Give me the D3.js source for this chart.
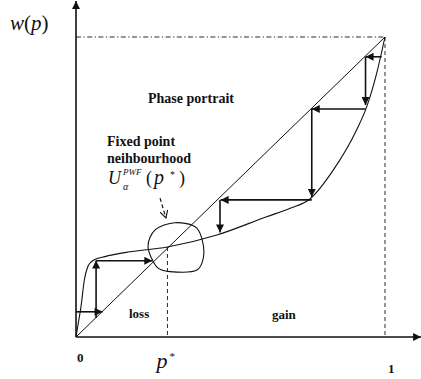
<!DOCTYPE html>
<html>
<head>
<meta charset="utf-8">
<script src="https://cdn.jsdelivr.net/npm/d3@7/dist/d3.min.js"></script>
<style>
  body { margin: 0; background: #fff; }
  text { font-family: "Liberation Serif", "Times New Roman", serif; fill: #111; }
  .b { font-weight: bold; }
  .i { font-style: italic; }
</style>
</head>
<body>
<div id="corpo"></div>
<script>
// curve w(p)
var curveP = [0, 0.008, 0.016, 0.027, 0.038, 0.049, 0.061, 0.094, 0.162, 0.296, 0.456, 0.617, 0.693, 0.757, 0.833, 0.908, 0.941, 0.973, 1];
var curveW = [0, 0.05, 0.10, 0.19, 0.234, 0.25, 0.258, 0.268, 0.282, 0.300, 0.340, 0.401, 0.429, 0.46, 0.557, 0.69, 0.768, 0.879, 1];

// fixed point
var pStar = 0.296;
var wStar = 0.300;

// neighbourhood blob around the fixed point
var blobP = [0.256, 0.320, 0.391, 0.414, 0.391, 0.304, 0.261, 0.233];
var blobW = [0.357, 0.381, 0.363, 0.284, 0.223, 0.218, 0.234, 0.301];

// cobweb arrows (from -> to)
var stepFrom = [[0.0, 0.084], [0.065, 0.063], [0.065, 0.254],
                [0.989, 0.934], [0.937, 0.934], [0.937, 0.76], [0.763, 0.76], [0.763, 0.457], [0.466, 0.457]];
var stepTo   = [[0.086, 0.084], [0.065, 0.255], [0.247, 0.254],
                [0.937, 0.934], [0.937, 0.773], [0.763, 0.76], [0.763, 0.467], [0.468, 0.457], [0.466, 0.348]];

var tickValues = [0, pStar, 1];
var tickLabels = ["0", "p", "1"];

var width = 421, height = 379;
var x = d3.scaleLinear().domain([0, 1]).range([76, 385]);
var y = d3.scaleLinear().domain([0, 1]).range([337, 37]);

var svg = d3.select("#corpo").append("svg")
    .attr("width", width)
    .attr("height", height);

var defs = svg.append("defs");
defs.append("marker")
    .attr("id", "head")
    .attr("markerUnits", "userSpaceOnUse")
    .attr("viewBox", "0 0 10 10")
    .attr("refX", 10).attr("refY", 5)
    .attr("markerWidth", 9).attr("markerHeight", 8)
    .attr("orient", "auto")
    .append("path")
    .attr("d", "M0,0L10,5L0,10Z")
    .style("fill", "#111");
defs.append("marker")
    .attr("id", "vhead")
    .attr("markerUnits", "userSpaceOnUse")
    .attr("viewBox", "0 0 10 10")
    .attr("refX", 9).attr("refY", 5)
    .attr("markerWidth", 8).attr("markerHeight", 8)
    .attr("orient", "auto")
    .append("path")
    .attr("d", "M0,0L9,5L0,10")
    .style("fill", "none")
    .style("stroke", "#111")
    .style("stroke-width", 1.4);

// axes
svg.append("line")
    .attr("x1", x(0)).attr("y1", y(0))
    .attr("x2", x(1.117)).attr("y2", y(0))
    .attr("marker-end", "url(#head)")
    .style("stroke", "#111").style("stroke-width", 1.6);
svg.append("line")
    .attr("x1", x(0)).attr("y1", y(0))
    .attr("x2", x(0)).attr("y2", y(1.12))
    .attr("marker-end", "url(#head)")
    .style("stroke", "#111").style("stroke-width", 1.6);

// reference lines
svg.append("line")
    .attr("x1", x(0)).attr("y1", y(1))
    .attr("x2", x(1)).attr("y2", y(1))
    .style("stroke", "#111").style("stroke-width", 0.9)
    .style("stroke-dasharray", "5,2.5,1.2,2.5");
svg.append("line")
    .attr("x1", x(1)).attr("y1", y(1))
    .attr("x2", x(1)).attr("y2", y(0))
    .style("stroke", "#111").style("stroke-width", 0.9)
    .style("stroke-dasharray", "4,3");
svg.append("line")
    .attr("x1", x(pStar)).attr("y1", y(wStar))
    .attr("x2", x(pStar)).attr("y2", y(0))
    .style("stroke", "#111").style("stroke-width", 0.9)
    .style("stroke-dasharray", "4,3");

// diagonal
svg.append("line")
    .attr("x1", x(0)).attr("y1", y(0))
    .attr("x2", x(1)).attr("y2", y(1))
    .style("stroke", "#111").style("stroke-width", 1);

// w(p)
var curvePts = curveP.map(function(p, i) { return [p, curveW[i]]; });
var line = d3.line()
    .x(function(d) { return x(d[0]); })
    .y(function(d) { return y(d[1]); })
    .curve(d3.curveMonotoneX);
svg.append("path")
    .attr("d", line(curvePts))
    .style("fill", "none").style("stroke", "#111").style("stroke-width", 1.1);

// neighbourhood
var blobPts = blobP.map(function(p, i) { return [p, blobW[i]]; });
svg.append("path")
    .attr("d", d3.line()
        .x(function(d) { return x(d[0]); })
        .y(function(d) { return y(d[1]); })
        .curve(d3.curveCardinalClosed.tension(0.1))(blobPts))
    .style("fill", "none").style("stroke", "#111").style("stroke-width", 1.1);

// cobweb
svg.selectAll(".step")
    .data(stepFrom)
    .enter().append("line")
    .attr("class", "step")
    .attr("x1", function(d) { return x(d[0]); })
    .attr("y1", function(d) { return y(d[1]); })
    .attr("x2", function(d, i) { return x(stepTo[i][0]); })
    .attr("y2", function(d, i) { return y(stepTo[i][1]); })
    .attr("marker-end", "url(#head)")
    .style("stroke", "#111").style("stroke-width", 1.6);

// dashed pointer from the label to the blob
svg.append("line")
    .attr("x1", x(0.272)).attr("y1", y(0.463))
    .attr("x2", x(0.291)).attr("y2", y(0.397))
    .attr("marker-end", "url(#vhead)")
    .style("stroke", "#111").style("stroke-width", 1.2)
    .style("stroke-dasharray", "4,2.5");

// tick labels
svg.append("text").attr("class", "b")
    .attr("x", x(tickValues[0]) + 1).attr("y", 362)
    .style("font-size", "13px").text(tickLabels[0]);
svg.append("text").attr("class", "i")
    .attr("x", x(tickValues[1]) - 11).attr("y", 368)
    .style("font-size", "22px").text(tickLabels[1]);
svg.append("text")
    .attr("x", x(tickValues[1]) + 2).attr("y", 360)
    .style("font-size", "11px").text("*");
svg.append("text").attr("class", "b")
    .attr("x", x(tickValues[2]) + 3).attr("y", 373)
    .style("font-size", "13px").text(tickLabels[2]);

// axis title
var wt = svg.append("text").attr("x", 10).attr("y", 30).style("font-size", "21px");
wt.append("tspan").attr("class", "i").text("w");
wt.append("tspan").text("(");
wt.append("tspan").attr("class", "i").text("p");
wt.append("tspan").text(")");

// annotations
svg.append("text").attr("class", "b").attr("x", 148).attr("y", 103)
    .style("font-size", "14px").text("Phase portrait");
svg.append("text").attr("class", "b").attr("x", 107).attr("y", 146)
    .style("font-size", "14px").text("Fixed point");
svg.append("text").attr("class", "b").attr("x", 107).attr("y", 163)
    .style("font-size", "14px").text("neihbourhood");
svg.append("text").attr("class", "i").attr("x", 108).attr("y", 184)
    .style("font-size", "18px").text("U");
svg.append("text").attr("class", "i").attr("x", 123).attr("y", 175)
    .style("font-size", "9px").text("PWF");
svg.append("text").attr("class", "i").attr("x", 123).attr("y", 190)
    .style("font-size", "10px").text("α");
svg.append("text").attr("x", 146).attr("y", 184)
    .style("font-size", "18px").text("(");
svg.append("text").attr("class", "i").attr("x", 154).attr("y", 184)
    .style("font-size", "20px").text("p");
svg.append("text").attr("x", 170).attr("y", 178)
    .style("font-size", "10px").text("*");
svg.append("text").attr("x", 179).attr("y", 184)
    .style("font-size", "18px").text(")");

svg.append("text").attr("class", "b").attr("x", 129).attr("y", 318)
    .style("font-size", "13px").text("loss");
svg.append("text").attr("class", "b").attr("x", 272).attr("y", 319)
    .style("font-size", "13px").text("gain");
</script>
</body>
</html>
